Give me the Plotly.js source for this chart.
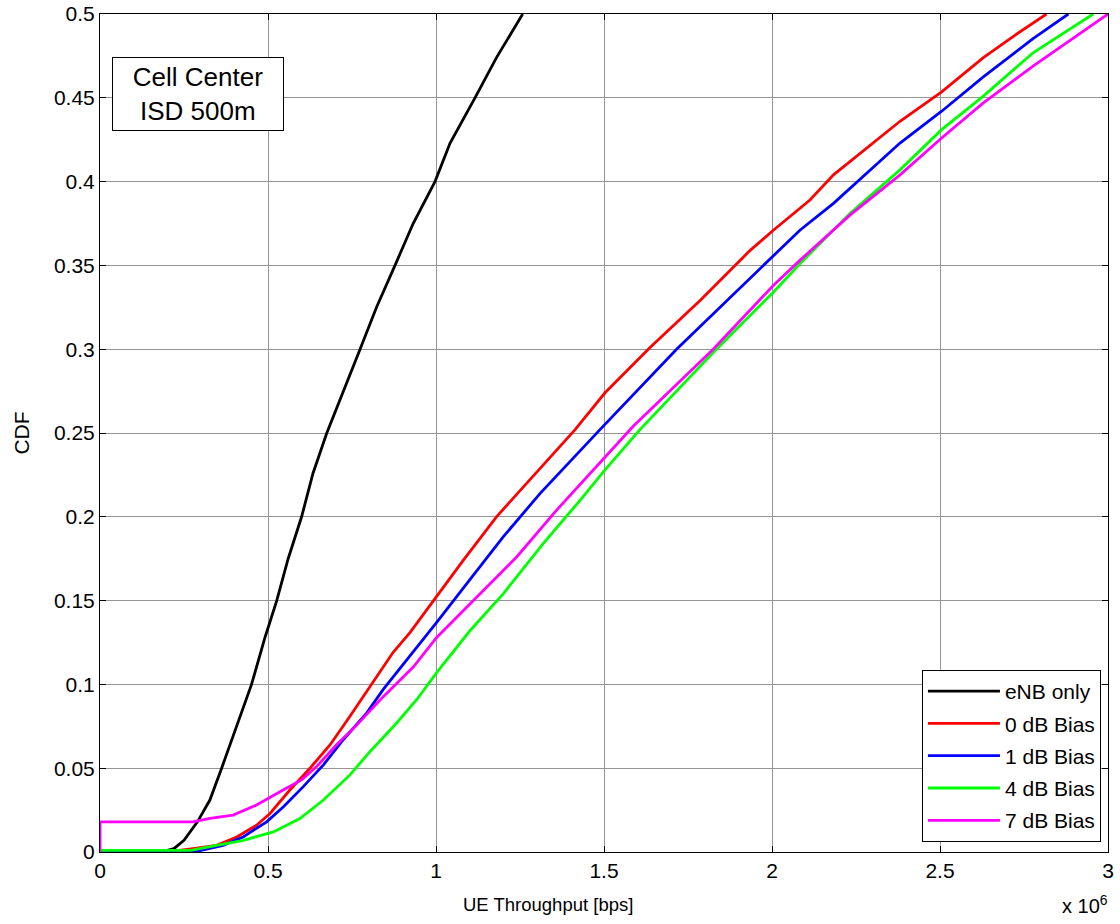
<!DOCTYPE html>
<html>
<head>
<meta charset="utf-8">
<script src="https://cdn.plot.ly/plotly-3.0.1.min.js"></script>
<style>html,body{margin:0;padding:0;background:#fff;}#chart{width:1120px;height:924px;}</style>
</head>
<body>
<div id="chart"></div>
<script>
// UE throughput values in units of 1e6 bps (axis shows "x 10^6")
const seriesNames = ["eNB only", "0 dB Bias", "1 dB Bias", "4 dB Bias", "7 dB Bias"];
const seriesColors = ["#000000", "#ff0000", "#0000ff", "#00ff00", "#ff00ff"];

const enbX = [0, 0.18, 0.22, 0.25, 0.29, 0.327, 0.362, 0.407, 0.451, 0.491, 0.526, 0.56, 0.60, 0.634, 0.675, 0.774, 0.823, 0.878, 0.932, 0.997, 1.042, 1.116, 1.18, 1.258];
const enbY = [0, 0, 0.002, 0.007, 0.018, 0.031, 0.05, 0.0757, 0.1, 0.128, 0.15, 0.175, 0.2, 0.226, 0.25, 0.3, 0.325, 0.35, 0.375, 0.4, 0.423, 0.45, 0.474, 0.5];

const bias0X = [0, 0.2, 0.277, 0.347, 0.407, 0.466, 0.506, 0.565, 0.625, 0.685, 0.744, 0.804, 0.872, 0.923, 1.0, 1.081, 1.18, 1.27, 1.349, 1.414, 1.503, 1.637, 1.786, 1.935, 2.004, 2.113, 2.183, 2.282, 2.381, 2.505, 2.629, 2.728, 2.817];
const bias0Y = [0, 0, 0.002, 0.004, 0.009, 0.016, 0.023, 0.037, 0.05, 0.064, 0.081, 0.099, 0.119, 0.131, 0.152, 0.174, 0.2, 0.22, 0.237, 0.252, 0.274, 0.301, 0.329, 0.359, 0.371, 0.389, 0.404, 0.42, 0.436, 0.4535, 0.474, 0.488, 0.5];

const bias1X = [0, 0.28, 0.366, 0.426, 0.496, 0.546, 0.605, 0.665, 0.724, 0.794, 0.843, 0.923, 1.002, 1.091, 1.2, 1.31, 1.399, 1.488, 1.716, 1.875, 2.004, 2.083, 2.183, 2.282, 2.381, 2.505, 2.629, 2.778, 2.882];
const bias1Y = [0, 0, 0.004, 0.009, 0.018, 0.027, 0.039, 0.052, 0.067, 0.083, 0.097, 0.117, 0.137, 0.16, 0.188, 0.214, 0.233, 0.252, 0.3, 0.331, 0.356, 0.371, 0.387, 0.405, 0.423, 0.442, 0.4625, 0.4855, 0.5];

const bias4X = [0, 0.27, 0.347, 0.427, 0.516, 0.595, 0.665, 0.744, 0.804, 0.883, 0.943, 1.002, 1.101, 1.2, 1.319, 1.438, 1.503, 1.607, 1.825, 2.004, 2.083, 2.232, 2.381, 2.505, 2.629, 2.778, 2.956];
const bias4Y = [0.001, 0.001, 0.004, 0.007, 0.012, 0.02, 0.031, 0.046, 0.06, 0.077, 0.091, 0.107, 0.132, 0.154, 0.184, 0.212, 0.228, 0.252, 0.298, 0.334, 0.351, 0.381, 0.407, 0.431, 0.451, 0.477, 0.5];

const bias7X = [0, 0, 0.277, 0.327, 0.396, 0.466, 0.545, 0.6, 0.645, 0.704, 0.764, 0.843, 0.933, 1.002, 1.121, 1.24, 1.359, 1.488, 1.587, 1.825, 2.004, 2.083, 2.232, 2.381, 2.505, 2.629, 2.778, 3.0];
const bias7Y = [0, 0.018, 0.018, 0.02, 0.022, 0.028, 0.037, 0.043, 0.051, 0.064, 0.0757, 0.0927, 0.1105, 0.128, 0.152, 0.176, 0.204, 0.232, 0.254, 0.3, 0.338, 0.353, 0.38, 0.404, 0.426, 0.447, 0.469, 0.5];

const xTicks = [0, 0.5, 1, 1.5, 2, 2.5, 3];
const yTicks = [0, 0.05, 0.1, 0.15, 0.2, 0.25, 0.3, 0.35, 0.4, 0.45, 0.5];

const allX = [enbX, bias0X, bias1X, bias4X, bias7X];
const allY = [enbY, bias0Y, bias1Y, bias4Y, bias7Y];

const FONT = "Liberation Sans, Arial, sans-serif";

const traces = seriesNames.map((name, i) => ({
  x: allX[i], y: allY[i], name: name, type: "scatter", mode: "lines",
  line: {color: seriesColors[i], width: 2.8},
  legendgroup: "g" + i
}));

const gridColor = "#959595";
const layout = {
  width: 1120, height: 924,
  margin: {l: 100, r: 12, t: 14, b: 72},
  paper_bgcolor: "#ffffff", plot_bgcolor: "#ffffff",
  font: {family: FONT, size: 20, color: "#000"},
  showlegend: true,
  legend: {
    x: 0.993, y: 0.012, xanchor: "right", yanchor: "bottom",
    bgcolor: "#ffffff", bordercolor: "#000000", borderwidth: 1,
    font: {family: FONT, size: 21, color: "#000"},
    traceorder: "grouped", tracegroupgap: 2, itemwidth: 72
  },
  xaxis: {
    range: [0, 3], tickvals: xTicks, ticktext: xTicks.map(String),
    showgrid: true, gridcolor: gridColor, gridwidth: 1,
    zeroline: false, showline: true, linecolor: "#000", linewidth: 1, mirror: "ticks",
    ticks: "inside", ticklen: 6, tickcolor: "#000",
    tickfont: {family: FONT, size: 21}
  },
  yaxis: {
    range: [0, 0.5], tickvals: yTicks, ticktext: yTicks.map(String),
    showgrid: true, gridcolor: gridColor, gridwidth: 1,
    zeroline: false, showline: true, linecolor: "#000", linewidth: 1, mirror: "ticks",
    ticks: "inside", ticklen: 6, tickcolor: "#000",
    tickfont: {family: FONT, size: 21},
    title: {text: "CDF", font: {family: FONT, size: 21}, standoff: 18}
  },
  annotations: [
    {
      xref: "paper", yref: "paper", x: 0.0977, y: 0.904, xanchor: "center", yanchor: "middle",
      text: "Cell Center<br>ISD 500m", showarrow: false, align: "center",
      font: {family: FONT, size: 26, color: "#000"},
      bgcolor: "#ffffff", bordercolor: "#000", borderwidth: 1, borderpad: 2,
      width: 166, height: 68
    },
    {
      xref: "paper", yref: "paper", x: 0.444, y: -0.063, xanchor: "center", yanchor: "middle",
      text: "UE Throughput [bps]", showarrow: false,
      font: {family: FONT, size: 18.5, color: "#000"}
    },
    {
      xref: "paper", yref: "paper", x: 0.977, y: -0.063, xanchor: "center", yanchor: "middle",
      text: "x 10<sup>6</sup>", showarrow: false,
      font: {family: FONT, size: 20, color: "#000"}
    }
  ]
};

Plotly.newPlot("chart", traces, layout, {displayModeBar: false, staticPlot: true});
</script>
</body>
</html>
